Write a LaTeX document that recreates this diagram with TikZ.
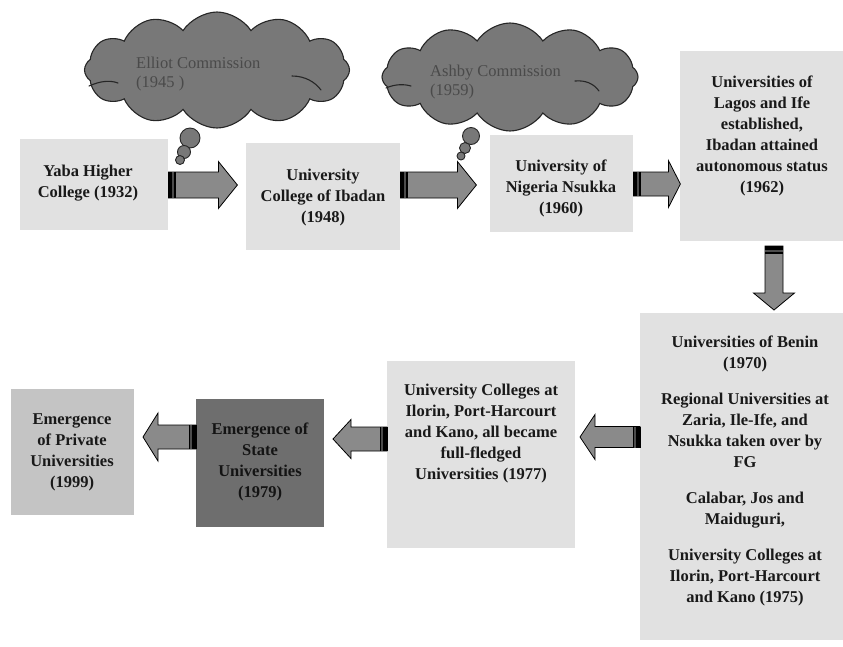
\documentclass[tikz,border=0pt]{standalone}
\usepackage{fontspec}
\setmainfont{Liberation Serif}
\usetikzlibrary{shapes.symbols}
\definecolor{boxfill}{HTML}{E1E1E1}
\definecolor{privfill}{HTML}{C4C4C4}
\definecolor{statefill}{HTML}{6E6E6E}
\definecolor{arrfill}{HTML}{8A8A8A}
\definecolor{cloudfill}{HTML}{787878}
\definecolor{cloudtext}{HTML}{4A4A4A}
\newcommand\blockarr[6]{%
 \begin{scope}[shift={#1},rotate=#2]
  \filldraw[arrstyle] (0,-#4) -- ({#3-#6},-#4) -- ({#3-#6},-#5) -- (#3,0) -- ({#3-#6},#5) -- ({#3-#6},#4) -- (0,#4) -- cycle;
  \fill[black] (0,-#4) rectangle (4,#4);
  \fill[black!70] (4,-#4) rectangle (6,#4);
  \fill[black] (6,-#4) rectangle (7.5,#4);
  \draw[black,line width=0.6pt] (0,-#4) -- (0,#4);
 \end{scope}}
\begin{document}
\begin{tikzpicture}[x=1pt,y=-1pt,
  box/.style={fill=boxfill,inner sep=0pt,anchor=north west},
  txt/.style={font=\bfseries\fontsize{16.5}{21}\selectfont,align=center,inner sep=0pt,text=black!90},
  arrstyle/.style={fill=arrfill,draw=black,line width=0.8pt,line join=miter},
  cloudy/.style={cloud,cloud puffs=12,cloud puff arc=115,cloud ignores aspect,draw=black!85,line width=1.1pt,fill=cloudfill,inner sep=0pt},
  cloudline/.style={draw=black!85,line width=1.1pt,line cap=round},
  bubble/.style={circle,draw=black!85,line width=0.9pt,fill=cloudfill,inner sep=0pt},
  ctxt/.style={font=\fontsize{16.5}{19}\selectfont,align=left,text=cloudtext,inner sep=0pt,anchor=west}]
\useasboundingbox (0,0) rectangle (843,646);
% boxes
\node[box,minimum width=148pt,minimum height=91pt] (yaba) at (20,139) {};
\node[box,minimum width=154pt,minimum height=107pt] (uci) at (246,143) {};
\node[box,minimum width=143pt,minimum height=97pt] (unn) at (490,135) {};
\node[box,minimum width=163pt,minimum height=190pt] (lagos) at (680,51) {};
\node[box,minimum width=203pt,minimum height=327pt] (benin) at (640,313) {};
\node[box,minimum width=188pt,minimum height=187pt] (coll) at (387,361) {};
\node[box,fill=statefill,minimum width=128pt,minimum height=128pt] (state) at (196,399) {};
\node[box,fill=privfill,minimum width=123pt,minimum height=126pt] (priv) at (11,389) {};
% texts
\node[txt] (tyaba) at (88,183) {Yaba Higher\\College (1932)};
\node[txt] (tuci) at (323,198) {University\\College of Ibadan\\(1948)};
\node[txt] (tunn) at (561,188) {University of\\Nigeria Nsukka\\(1960)};
\node[txt] (tlagos) at (762,136) {Universities of\\Lagos and Ife\\established,\\Ibadan attained\\autonomous status\\(1962)};
\node[txt] (tbenin) at (745,471) {Universities of Benin\\(1970)\\[15pt]Regional Universities at\\Zaria, Ile-Ife, and\\Nsukka taken over by\\FG\\[15pt]Calabar, Jos and\\Maiduguri,\\[15pt]University Colleges at\\Ilorin, Port-Harcourt\\and Kano (1975)};
\node[txt] (tcoll) at (481,434) {University Colleges at\\Ilorin, Port-Harcourt\\and Kano, all became\\full-fledged\\Universities (1977)};
\node[txt,text=black!92] (tstate) at (260,462) {Emergence of\\State\\Universities\\(1979)};
\node[txt] (tpriv) at (72,452) {Emergence\\of Private\\Universities\\(1999)};
% clouds
\node[cloudy,minimum width=265pt,minimum height=116pt] (c1) at (217,70) {};
\draw[cloudline] (89,86) .. controls (100,81) and (110,80) .. (118,83);
\draw[cloudline] (292,76) .. controls (305,76) and (315,82) .. (321,90);
\node[bubble,minimum size=20pt] (b1a) at (190,138) {};
\node[bubble,minimum size=13pt] (b1b) at (184,152) {};
\node[bubble,minimum size=9pt] (b1c) at (180,160) {};
\node[ctxt] (tc1) at (136,74) {Elliot Commission\\(1945 )};
\node[cloudy,minimum width=256pt,minimum height=108pt] (c2) at (510,77) {};
\draw[cloudline] (386,88) .. controls (395,84) and (404,84) .. (411,86);
\draw[cloudline] (575,81) .. controls (586,80) and (594,84) .. (599,91);
\node[bubble,minimum size=17pt] (b2a) at (471,136) {};
\node[bubble,minimum size=11pt] (b2b) at (465,148) {};
\node[bubble,minimum size=8pt] (b2c) at (461,156) {};
\node[ctxt] (tc2) at (430,82) {Ashby Commission\\(1959)};
% block arrows
\blockarr{(yaba.east |- 0,185)}{0}{69}{13}{23.5}{19}
\blockarr{(uci.east |- 0,185)}{0}{76}{13}{23.5}{19}
\blockarr{(unn.east |- 0,184)}{0}{47}{12}{23.5}{12}
\blockarr{(774,246)}{-90}{64}{9}{20.5}{17}
\blockarr{(benin.west |- 0,437)}{180}{60}{10.5}{22.5}{15}
\blockarr{(coll.west |- 0,439)}{180}{54}{12}{19.5}{18}
\blockarr{(state.west |- 0,437)}{180}{53}{12}{24}{15}
\end{tikzpicture}
\end{document}
